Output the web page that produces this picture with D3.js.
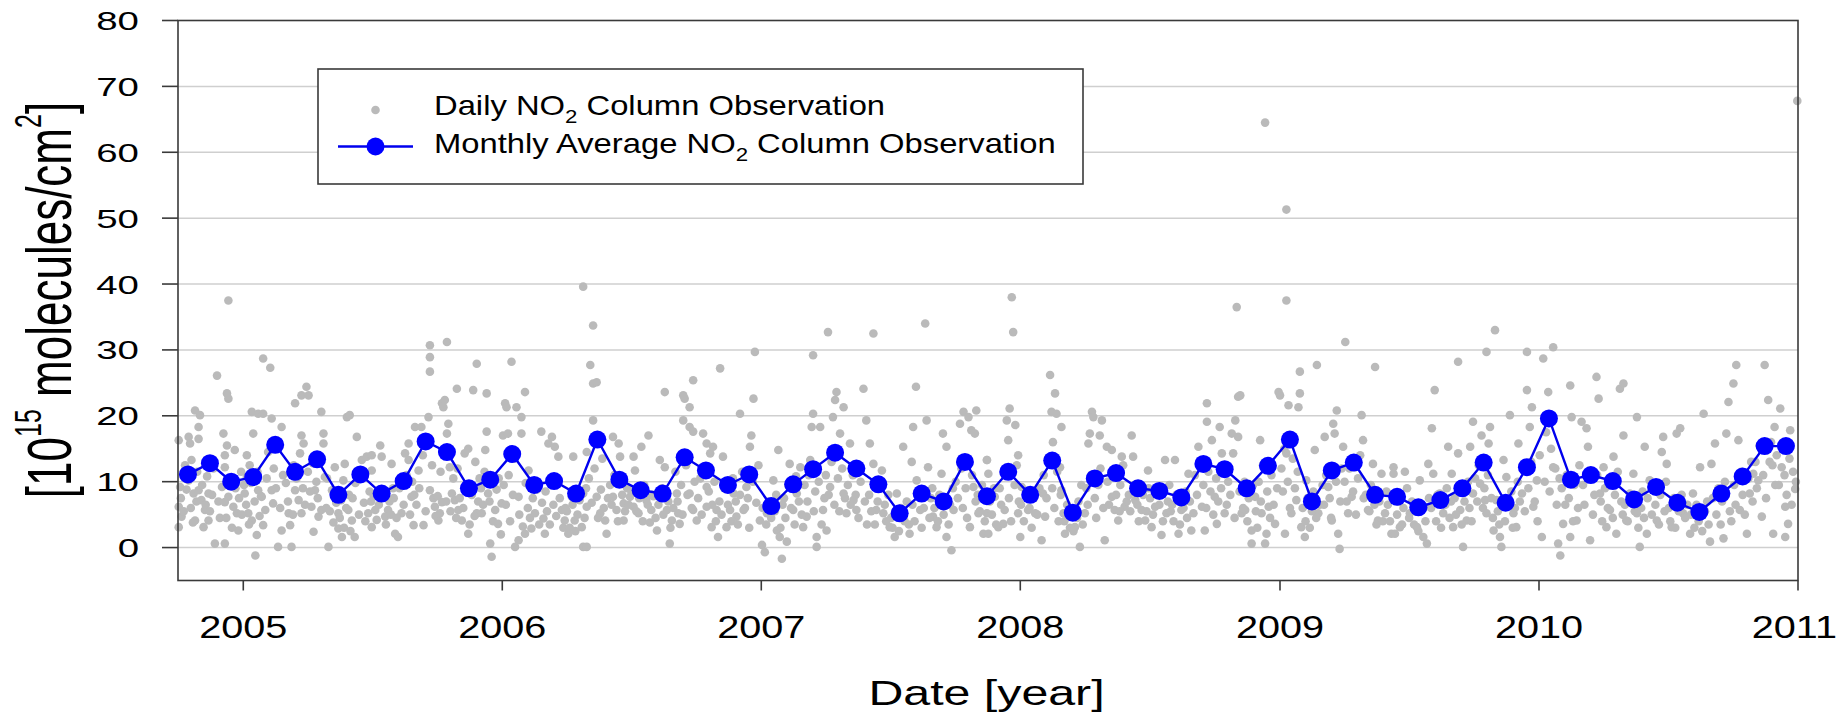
<!DOCTYPE html>
<html><head><meta charset="utf-8">
<script src="https://cdn.jsdelivr.net/npm/d3@7"></script>
<style>
body{margin:0;background:#fff}
svg{display:block}
text{font-family:"Liberation Sans",Arial,Helvetica,sans-serif;fill:#000}
</style>
</head><body>
<svg id="chart" width="1839" height="715"></svg>
<script>
// ---------------- DATA ----------------
// Monthly averages (10^15 molecules/cm^2), Oct 2004 .. Dec 2010, plotted mid-month
const monthlyFirst = "2004-10-15";
const monthlyValues = [
  11.1, 12.8, 10.0,
  10.7, 15.6, 11.5, 13.4, 8.0, 11.1, 8.2, 10.1, 16.1, 14.5, 9.0, 10.3,
  14.2, 9.5, 10.1, 8.2, 16.4, 10.3, 8.7, 8.2, 13.7, 11.7, 9.5, 11.1,
  6.3, 9.6, 11.9, 14.4, 12.0, 9.6, 5.2, 8.2, 7.0, 13.0, 7.8, 11.5,
  8.0, 13.2, 5.3, 10.5, 11.3, 9.0, 8.6, 7.6, 12.7, 11.9, 9.0, 12.4,
  16.4, 7.0, 11.7, 12.9, 8.0, 7.7, 6.1, 7.2, 9.0, 12.9, 6.8, 12.2,
  19.6, 10.3, 11.0, 10.1, 7.3, 9.2, 6.8, 5.4, 8.2, 10.8, 15.4, 15.4
];

// Daily observations: [days since 2004-10-01, value]
const dailyStart = "2004-10-01";
const daily2004_2006 = [[1,16.3],[3,9.2],[1,6.2],[5,4.7],[1,3.1],[15,16.8],[17,15.8],[24,20.8],[31,20.1],[29,18.3],[29,16.5],[19,13.3],[15,10.2],[22,8.2],[29,8.7],[33,7.2],[24,4.1],[36,3.1],[38,5.7],[43,8.2],[43,4.1],[55,26.1],[69,23.4],[71,22.6],[71,37.5],[64,17.3],[69,15.5],[66,14.0],[80,14.8],[66,12.2],[71,7.7],[66,6.9],[78,6.2],[83,5.2],[52,0.6],[66,0.6],[85,2.6],[97,14.0],[104,20.6],[106,17.3],[101,12.5],[97,10.7],[94,8.2],[99,5.2],[104,4.1],[109,-1.2],[111,1.9],[113,20.3],[120,28.7],[130,27.3],[120,20.3],[132,19.6],[118,7.7],[123,5.7],[120,3.4],[113,8.7],[132,8.7],[134,6.7],[141,0.1],[146,18.3],[146,2.6],[156,5.2],[160,0.1],[165,8.7],[170,7.2],[172,14.3],[174,17.0],[177,15.8],[165,21.9],[174,23.1],[181,24.4],[184,23.1],[158,3.4],[174,5.2],[188,6.2],[191,2.4],[193,8.7],[202,20.6],[205,17.3],[205,15.8],[207,10.7],[198,4.7],[202,5.7],[212,0.1],[217,8.7],[221,12.2],[226,5.2],[226,2.9],[231,1.6],[235,12.7],[233,10.2],[238,19.8],[242,20.1],[240,5.7],[245,4.1],[249,1.6],[252,16.8],[259,13.3],[266,13.8],[273,14.0],[273,11.7],[268,5.2],[273,3.1],[278,5.7],[285,15.5],[287,13.8],[292,4.7],[296,5.7],[301,12.7],[306,2.1],[310,1.6],[315,5.2],[320,14.3],[325,15.8],[325,13.3],[329,7.7],[332,3.4],[334,18.3],[343,18.3],[339,11.7],[346,3.4],[353,19.8],[355,30.7],[355,28.9],[355,26.7],[367,4.1],[372,21.9],[376,22.4],[374,21.3],[379,31.2],[381,18.8],[379,17.3],[383,12.2],[355,8.7],[362,6.2],[372,6.9],[386,8.2],[390,7.2],[393,24.1],[395,5.7],[400,4.1],[409,2.1],[404,14.3],[409,15.0],[416,23.9],[419,13.0],[421,27.9],[421,5.2],[428,5.2],[435,23.4],[435,17.6],[433,14.8],[437,8.2],[440,0.6],[442,-1.4],[447,5.7],[451,3.6],[456,6.7],[461,21.9],[463,21.3],[458,17.0],[465,17.3],[470,28.2],[477,21.3],[480,7.7],[475,0.1],[480,1.1],[484,19.8],[484,17.3],[489,23.6],[489,2.1],[494,11.7],[498,2.9],[512,17.6],[515,4.4],[517,2.1],[522,15.8],[527,16.8],[531,15.3],[536,13.8],[541,5.7],[545,4.1],[550,2.1],[557,13.8],[555,7.7],[559,4.1],[571,0.1]];
const daily2006_2007 = [[571,39.6],[585,33.7],[581,27.7],[585,24.9],[590,25.1],[585,19.3],[576,14.5],[571,8.2],[576,6.2],[569,3.1],[576,0.1],[590,7.7],[595,5.2],[604,2.1],[602,4.1],[613,16.8],[621,15.8],[623,13.8],[613,7.7],[618,5.7],[628,4.1],[628,6.7],[642,13.8],[644,11.7],[637,7.7],[642,6.2],[649,5.2],[653,15.3],[663,17.0],[660,7.2],[667,5.7],[675,2.6],[679,13.3],[686,23.6],[686,12.2],[689,5.7],[693,0.6],[696,4.1],[703,8.2],[705,5.2],[707,3.6],[712,23.1],[714,22.6],[721,21.3],[726,25.4],[712,19.3],[721,18.3],[726,17.6],[721,8.2],[726,5.7],[731,4.1],[740,17.3],[745,15.8],[750,14.3],[745,9.2],[745,6.2],[752,3.1],[759,5.7],[761,1.6],[754,15.3],[764,27.2],[768,13.8],[773,3.1],[778,5.7],[783,8.2],[787,4.7],[792,20.3],[797,5.7],[801,9.2],[806,15.3],[808,17.0],[811,22.6],[813,29.7],[820,4.1],[823,0.4],[827,-0.7],[830,5.2],[839,10.2],[844,2.6],[846,14.8],[848,1.6],[851,-1.7],[858,0.9],[862,12.7],[867,5.7],[872,8.2],[877,12.2],[881,3.1],[886,4.7],[891,13.3],[895,20.3],[893,18.3],[895,29.2],[900,1.6],[900,0.1],[905,18.3],[909,5.7],[914,2.6],[916,32.7],[919,9.2],[923,19.8],[926,22.4],[928,23.6],[933,17.3],[938,21.3],[938,8.2],[942,5.2],[947,15.8],[952,7.2],[956,5.7],[966,24.1],[970,19.3],[975,15.8],[980,32.5],[980,12.7],[984,5.7],[992,11.7],[994,5.2],[1003,3.1],[1010,1.6],[1013,8.2],[1022,15.3],[1031,2.1],[1034,13.0],[1036,18.3],[1040,24.4],[1041,10.2],[1046,5.7],[1053,34.0],[1055,19.3],[1057,12.2],[1064,4.7],[1069,3.1],[1076,11.2],[1078,17.3],[1083,15.3],[1083,1.6],[1090,-0.4],[1093,5.7],[1102,18.8],[1107,20.6],[1114,19.8],[1118,17.8],[1123,17.3],[1125,20.8],[1121,9.2],[1116,3.1],[1128,5.2],[1135,2.1],[1140,13.3]];
const daily2008_2009 = [[1140,13.3],[1142,11.2],[1140,5.2],[1142,2.1],[1151,7.7],[1156,3.1],[1163,3.6],[1165,5.7],[1170,16.3],[1168,19.3],[1172,21.1],[1175,38.0],[1177,32.7],[1180,18.6],[1184,14.0],[1184,5.2],[1187,1.6],[1189,9.2],[1198,5.7],[1208,5.2],[1217,1.1],[1219,8.2],[1222,4.7],[1229,26.2],[1236,23.4],[1231,20.6],[1238,20.3],[1245,18.3],[1233,16.0],[1243,12.2],[1245,8.7],[1248,5.2],[1250,2.1],[1255,4.7],[1264,3.1],[1271,0.1],[1273,9.5],[1278,5.2],[1283,15.8],[1285,17.3],[1288,20.6],[1290,19.8],[1299,17.0],[1302,19.3],[1306,1.1],[1309,15.3],[1316,14.8],[1316,7.7],[1320,5.7],[1325,4.1],[1330,13.8],[1334,6.2],[1344,17.0],[1346,13.8],[1349,7.2],[1358,5.7],[1363,4.1],[1367,11.7],[1372,3.1],[1377,6.2],[1386,1.9],[1391,13.3],[1393,5.2],[1405,13.3],[1410,2.1],[1414,5.7],[1424,11.2],[1428,2.6],[1431,5.2],[1438,15.3],[1443,6.2],[1447,2.6],[1450,21.9],[1450,19.1],[1457,16.3],[1461,7.7],[1464,3.6],[1468,18.3],[1471,14.3],[1475,5.2],[1487,14.3],[1485,17.3],[1490,19.3],[1492,36.5],[1494,22.9],[1497,23.1],[1494,16.8],[1499,5.2],[1504,5.7],[1513,2.6],[1513,0.6],[1518,7.7],[1525,16.3],[1527,5.2],[1532,0.6],[1534,2.1],[1537,6.2],[1546,3.6],[1551,23.6],[1553,23.1],[1532,64.5],[1562,51.3],[1562,37.5],[1565,21.6],[1562,14.3],[1560,2.1],[1569,5.2],[1576,7.2],[1579,21.3],[1581,23.4],[1581,26.7],[1583,3.1],[1588,1.6],[1590,10.2],[1602,14.8],[1605,27.7],[1607,5.2],[1616,16.8],[1621,9.2],[1626,4.1],[1628,18.8],[1630,17.3],[1633,20.8],[1635,2.1],[1637,-0.2],[1642,15.3],[1645,31.2],[1649,5.2],[1654,7.7],[1659,12.2],[1668,20.1],[1670,16.3],[1677,5.7],[1684,12.7],[1687,27.4],[1691,4.1],[1696,11.2],[1701,5.2],[1710,2.1],[1713,12.2]];
const daily2009_2010 = [[1713,11.2],[1717,8.2],[1722,3.1],[1715,2.1],[1729,11.5],[1736,5.2],[1746,3.1],[1750,10.2],[1755,1.6],[1760,0.6],[1757,6.2],[1762,12.7],[1767,18.1],[1771,23.9],[1769,11.2],[1778,8.2],[1783,5.2],[1790,15.3],[1795,11.2],[1797,3.1],[1804,28.2],[1804,14.3],[1807,5.7],[1811,0.1],[1816,4.1],[1821,15.3],[1825,19.1],[1825,8.2],[1835,9.7],[1837,17.0],[1842,7.2],[1844,5.2],[1844,29.7],[1849,18.3],[1847,15.8],[1854,2.6],[1856,33.0],[1858,7.2],[1863,1.6],[1865,0.1],[1868,13.3],[1872,10.7],[1877,20.1],[1882,5.2],[1886,3.1],[1889,15.8],[1894,8.2],[1901,29.7],[1901,23.9],[1905,18.3],[1908,21.3],[1910,6.2],[1915,10.2],[1922,1.6],[1924,28.7],[1931,23.6],[1938,30.4],[1938,12.2],[1945,0.6],[1948,-1.2],[1952,3.6],[1962,24.6],[1964,19.8],[1962,1.6],[1971,4.1],[1978,19.1],[1985,18.1],[1987,15.3],[1990,1.1],[1999,25.9],[2002,22.6],[2004,8.2],[2009,12.2],[2013,3.1],[2018,5.7],[2023,13.8],[2027,2.1],[2032,24.1],[2037,17.0],[2037,24.9],[2041,4.1],[2046,8.2],[2051,11.2],[2056,19.8],[2056,5.2],[2060,0.1],[2067,15.3],[2070,2.1],[2074,10.2],[2084,4.1],[2091,14.5],[2093,16.8],[2098,12.7],[2105,3.1],[2112,17.3],[2117,18.1],[2121,5.2],[2131,2.1],[2135,8.2],[2145,12.2],[2150,20.3],[2159,0.9],[2161,12.7],[2166,15.8],[2178,1.4],[2182,17.3],[2185,22.1],[2192,24.9],[2196,27.7],[2199,16.3],[2201,5.7],[2211,2.1],[2215,8.2],[2220,11.2],[2227,10.2],[2232,4.7],[2236,27.7],[2241,22.4],[2243,13.0],[2248,2.1],[2250,18.3],[2258,21.1],[2260,12.2],[2265,6.2],[2265,1.6],[2269,3.6],[2272,17.8],[2276,11.5],[2279,8.9],[2282,67.8]];
// Densely overlapping observations in the main band (second reading pass)
const dailyDense2004_2007 = [[4,7.5],[8,5.5],[12,8.8],[18,6.0],[21,3.8],[26,7.0],[27,11.5],[10,12.5],[34,9.5],[39,6.5],[41,10.8],[45,5.5],[48,8.0],[50,12.0],[57,7.0],[59,4.5],[62,9.2],[68,4.5],[73,10.5],[76,3.0],[81,9.0],[86,7.5],[89,11.5],[90,5.0],[93,9.5],[96,6.5],[100,3.5],[103,9.8],[108,7.0],[112,11.5],[115,4.8],[117,7.8],[125,10.5],[127,14.5],[135,12.0],[138,9.0],[142,16.0],[148,11.0],[144,6.0],[152,9.8],[155,7.0],[162,5.0],[167,10.5],[176,9.0],[179,6.5],[163,12.5],[183,11.5],[186,8.5],[190,12.8],[195,10.0],[197,7.5],[200,13.5],[209,6.0],[210,10.5],[214,5.5],[219,3.8],[223,6.8],[228,4.5],[230,7.2],[234,3.0],[237,6.0],[241,8.0],[243,2.5],[246,7.5],[250,9.8],[255,5.0],[258,11.5],[262,6.8],[264,4.0],[270,8.5],[272,7.0],[276,7.8],[280,4.2],[283,6.5],[289,8.5],[293,3.5],[298,7.0],[300,5.0],[303,9.0],[304,7.5],[308,4.5],[312,9.0],[318,6.5],[322,11.0],[327,5.0],[330,10.0],[333,8.0],[336,6.5],[340,9.0],[345,14.0],[349,5.5],[351,16.5],[358,12.5],[360,7.5],[363,4.8],[366,7.8],[369,5.2],[370,11.5],[378,7.0],[384,5.5],[388,10.5],[392,4.5],[394,12.0],[397,7.5],[402,6.0],[406,9.0],[411,3.5],[414,8.0],[418,4.8],[423,7.0],[425,10.5],[427,9.0],[430,6.5],[432,11.5],[439,7.0],[444,4.0],[449,8.8],[452,10.5],[455,2.0],[459,9.5],[462,6.5],[466,11.0],[468,4.0],[472,8.0],[474,13.5],[481,5.0],[486,3.2],[490,9.8],[493,6.0],[496,4.5],[500,7.5],[503,5.2],[506,8.8],[509,3.5],[513,6.8],[518,8.5],[520,5.5],[524,3.5],[529,6.5],[533,4.8],[538,7.5],[543,3.0],[546,6.0],[548,5.5],[552,3.0],[556,6.5],[560,2.5],[563,5.0],[566,7.2],[573,4.5],[575,9.0],[579,10.5],[583,6.8],[587,12.0],[592,4.5],[596,8.8],[600,6.0],[606,7.5],[598,13.5],[609,9.5],[611,6.5],[615,11.0],[620,4.0],[626,8.0],[630,5.5],[633,9.0],[635,6.5],[639,8.5],[646,5.5],[650,7.5],[655,4.0],[657,9.5],[662,6.5],[665,3.8],[668,8.0],[670,7.8],[673,4.5],[677,6.5],[682,9.0],[684,5.0],[691,7.0],[694,3.0],[698,6.0],[701,11.5],[704,7.0],[709,9.5],[711,5.0],[716,12.5],[718,8.0],[724,6.0],[728,10.0],[733,7.5],[736,10.5],[738,5.0],[742,12.0],[748,8.5],[753,6.5],[756,10.0],[758,4.0],[763,7.0],[766,5.0],[770,9.0],[775,6.5],[780,4.0],[782,10.5],[786,7.0],[789,3.5],[792,8.0],[795,11.5],[799,6.0],[803,7.5],[805,3.0],[810,10.0],[815,6.8],[818,12.5],[824,6.0],[829,3.5],[833,7.0],[836,4.5],[841,5.5],[843,8.0],[849,3.0],[852,6.5],[854,7.5],[856,4.5],[860,9.5],[864,6.0],[869,3.5],[871,10.8],[875,7.0],[879,5.0],[883,9.5],[887,7.0],[889,11.0],[896,5.5],[898,8.5],[903,10.0],[907,3.5],[911,7.5],[913,11.0],[917,8.0],[921,13.0],[925,6.5],[930,10.5],[932,5.5],[936,12.0],[940,7.5],[944,9.5],[948,6.5],[951,11.0],[955,8.0],[959,4.5],[962,10.0],[968,7.0],[971,3.5],[974,8.0],[977,5.5],[982,3.5],[986,7.0],[989,9.5],[996,6.5],[998,4.0],[1001,8.0],[1005,4.5],[1007,3.0],[1012,5.5],[1016,2.5],[1019,6.0],[1024,4.0],[1027,7.0],[1030,3.5],[1035,6.5],[1038,4.0],[1043,8.0],[1048,3.0],[1051,6.0],[1059,4.5],[1061,7.5],[1063,9.0],[1066,6.0],[1071,4.0],[1073,8.0],[1079,5.0],[1081,7.0],[1086,3.5],[1088,6.5],[1092,9.0],[1096,10.0],[1099,7.5],[1104,12.0],[1106,6.0],[1110,9.0],[1112,4.5],[1119,11.0],[1124,7.0],[1127,8.0],[1130,5.5],[1133,9.5],[1137,4.0],[1144,7.0],[1147,5.0],[1150,9.0],[1153,3.5],[1158,9.0],[1160,6.5],[1166,11.0],[1171,7.5],[1174,4.0],[1179,9.5],[1182,12.5],[1185,7.0]];
const dailyDense2008_2010 = [[1188,6.5],[1192,4.0],[1195,8.5],[1200,6.0],[1203,3.0],[1206,7.5],[1211,5.0],[1214,9.0],[1220,11.0],[1224,7.5],[1226,13.5],[1232,9.0],[1235,6.0],[1239,11.5],[1241,4.0],[1244,8.0],[1249,4.0],[1253,6.5],[1257,3.0],[1260,5.5],[1262,2.5],[1267,4.5],[1269,7.0],[1275,3.5],[1280,9.0],[1282,6.5],[1287,11.0],[1292,7.5],[1294,4.5],[1297,9.5],[1300,12.0],[1304,6.0],[1310,10.0],[1312,6.5],[1318,11.5],[1322,8.0],[1327,5.5],[1328,9.5],[1332,12.5],[1337,7.0],[1340,8.0],[1342,5.5],[1348,9.5],[1352,6.5],[1354,4.0],[1360,8.0],[1365,5.5],[1368,9.0],[1370,7.5],[1374,5.0],[1380,8.5],[1383,6.5],[1388,4.0],[1395,7.0],[1397,9.5],[1399,5.5],[1401,6.5],[1403,4.0],[1407,8.0],[1412,3.5],[1417,6.0],[1420,8.5],[1422,4.5],[1426,7.0],[1433,11.0],[1436,8.0],[1440,13.0],[1445,9.5],[1449,6.0],[1452,11.5],[1455,8.5],[1459,5.0],[1463,10.5],[1466,7.0],[1470,9.0],[1473,12.0],[1478,6.5],[1480,10.0],[1483,8.0],[1489,4.5],[1496,8.5],[1501,6.0],[1503,10.0],[1507,4.0],[1509,7.5],[1515,9.5],[1519,5.5],[1521,3.0],[1523,10.0],[1526,7.0],[1529,12.5],[1535,8.5],[1539,4.5],[1541,11.0],[1544,6.5],[1549,9.0],[1555,12.0],[1557,8.5],[1559,15.0],[1564,10.0],[1567,6.0],[1571,13.5],[1574,9.0],[1578,11.5],[1585,6.0],[1589,4.0],[1592,7.5],[1595,3.0],[1598,5.5],[1600,8.5],[1604,4.5],[1609,6.5],[1613,9.5],[1615,6.5],[1618,11.0],[1623,7.5],[1625,4.5],[1632,10.0],[1638,7.0],[1640,12.0],[1644,10.0],[1647,7.0],[1651,12.0],[1656,8.5],[1660,5.0],[1663,10.5],[1666,14.0],[1671,7.5],[1674,8.0],[1679,5.5],[1681,9.5],[1686,6.5],[1689,3.5],[1693,7.0],[1698,4.0],[1703,8.5],[1705,6.5],[1708,4.0],[1712,8.0],[1718,5.0],[1720,7.0],[1725,3.5],[1727,6.0],[1732,9.0],[1735,4.5],[1739,7.0],[1742,3.5],[1744,5.5],[1748,2.5],[1752,6.0],[1758,4.0],[1763,7.5],[1766,6.0],[1773,4.0],[1775,8.0],[1780,3.0],[1786,6.5],[1788,9.0],[1792,4.5],[1794,7.0],[1799,7.5],[1801,5.0],[1806,9.5],[1809,3.5],[1813,7.0],[1818,10.0],[1820,6.0],[1823,4.0],[1828,10.5],[1831,7.0],[1833,12.5],[1839,6.0],[1841,9.0],[1846,11.0],[1851,7.5],[1853,4.5],[1860,5.5],[1862,3.5],[1867,7.0],[1870,4.0],[1874,6.5],[1879,8.5],[1881,3.0],[1884,6.0],[1888,10.0],[1891,7.0],[1896,12.5],[1898,5.5],[1903,9.0],[1907,13.0],[1912,7.0],[1916,4.0],[1919,14.0],[1926,10.0],[1928,17.5],[1933,8.5],[1935,15.0],[1941,12.0],[1943,6.5],[1947,10.5],[1950,9.0],[1955,6.5],[1957,11.0],[1960,7.5],[1966,4.0],[1968,9.5],[1973,6.0],[1975,12.5],[1980,9.5],[1982,6.5],[1992,10.5],[1994,5.0],[1996,8.0],[2000,11.0],[2005,7.0],[2007,4.0],[2011,9.0],[2015,6.0],[2020,10.5],[2022,4.5],[2025,8.0],[2029,11.5],[2034,7.0],[2036,5.0],[2039,6.5],[2043,4.0],[2048,7.5],[2053,5.5],[2058,3.0],[2062,6.0],[2064,8.5],[2066,4.5],[2071,7.5],[2077,5.0],[2080,9.0],[2082,6.5],[2087,3.5],[2089,8.0],[2095,5.5],[2097,10.0],[2101,6.0],[2103,4.0],[2108,7.5],[2110,3.0],[2115,5.5],[2119,8.0],[2124,4.5],[2127,6.5],[2132,5.0],[2137,3.0],[2140,6.5],[2143,4.0],[2148,2.5],[2152,5.5],[2155,7.0],[2157,3.5],[2163,7.5],[2168,5.0],[2171,9.0],[2174,3.5],[2176,7.0],[2180,10.0],[2187,5.5],[2189,4.0],[2193,9.5],[2195,6.5],[2203,11.5],[2205,8.0],[2208,5.0],[2213,10.5],[2217,13.0],[2219,7.0],[2223,13.0],[2225,9.0],[2229,15.5],[2234,11.0],[2238,7.5],[2245,16.0],[2247,12.5],[2251,9.5],[2253,14.0],[2256,9.5],[2262,15.0],[2264,11.0],[2267,8.0],[2271,13.5],[2274,6.5],[2280,10.0]];

const yTickValues = [0, 10, 20, 30, 40, 50, 60, 70, 80];
const xTickYears = [2005, 2006, 2007, 2008, 2009, 2010, 2011];
const legendLabels = ["Daily NO", " Column Observation", "Monthly Average NO", " Column Observation"];

// ---------------- DRAW ----------------
const svg = d3.select("#chart");
const parse = d3.utcParse("%Y-%m-%d");
const t0 = parse(dailyStart);
const x = d3.scaleUtc().domain([t0, parse("2011-01-01")]).range([178, 1798]);
const y = d3.scaleLinear().domain([-5, 80]).range([580.5, 20.5]);
const [X0, X1] = x.range();
const [Y0, Y1] = y.range();

// grid lines
svg.append("g").selectAll("line").data(yTickValues.filter(v => v < 80)).join("line")
  .attr("x1", X0).attr("x2", X1).attr("y1", d => y(d)).attr("y2", d => y(d))
  .attr("stroke", "#cfcfcf").attr("stroke-width", 1.5);

// daily points
const daily = [].concat(daily2004_2006, daily2006_2007, daily2008_2009, daily2009_2010,
                        dailyDense2004_2007, dailyDense2008_2010);
svg.append("g").selectAll("circle").data(daily).join("circle")
  .attr("cx", d => x(d3.utcDay.offset(t0, d[0])))
  .attr("cy", d => y(d[1]))
  .attr("r", 4.3).attr("fill", "#bababa");

// monthly line + markers
const m0 = parse(monthlyFirst);
const monthly = monthlyValues.map((v, i) => [d3.utcMonth.offset(m0, i), v]);
svg.append("path").datum(monthly)
  .attr("d", d3.line().x(d => x(d[0])).y(d => y(d[1])))
  .attr("fill", "none").attr("stroke", "#0000ee").attr("stroke-width", 2.4);
svg.append("g").selectAll("circle").data(monthly).join("circle")
  .attr("cx", d => x(d[0])).attr("cy", d => y(d[1]))
  .attr("r", 9).attr("fill", "#0000ff");

// frame
svg.append("rect").attr("x", X0).attr("y", Y1).attr("width", X1 - X0).attr("height", Y0 - Y1)
  .attr("fill", "none").attr("stroke", "#3a3a3a").attr("stroke-width", 1.6);

// helper for horizontally-stretched text
function stretched(parent, tx, ty, sx, sy, anchor, size) {
  return parent.append("g").attr("transform", `translate(${tx},${ty}) scale(${sx},${sy})`)
    .append("text").attr("text-anchor", anchor).attr("font-size", size);
}

// y axis ticks + labels
const yAx = svg.append("g");
yTickValues.forEach(v => {
  yAx.append("line").attr("x1", X0 - 16).attr("x2", X0).attr("y1", y(v)).attr("y2", y(v))
    .attr("stroke", "#3a3a3a").attr("stroke-width", 1.6);
  stretched(yAx, 139, y(v) + 9.5, 1.45, 1, "end", 26.5).text(v);
});

// x axis ticks + labels
const xAx = svg.append("g");
xTickYears.forEach((yr, i) => {
  const xp = x(parse(yr + "-01-01"));
  xAx.append("line").attr("x1", xp).attr("x2", xp).attr("y1", Y0).attr("y2", Y0 + 10)
    .attr("stroke", "#3a3a3a").attr("stroke-width", 1.6);
  const last = i === xTickYears.length - 1;
  stretched(xAx, last ? 1837 : xp, 638, 1.24, 1, last ? "end" : "middle", 32).text(yr);
});

// axis titles
stretched(svg, 986.5, 705, 1.38, 1, "middle", 35).text("Date [year]");

const yt = svg.append("g").attr("transform", "translate(71,300) rotate(-90) scale(1,1.45)")
  .append("text").attr("text-anchor", "middle").attr("font-size", 44);
yt.append("tspan").text("[10");
yt.append("tspan").attr("font-size", 25).attr("dy", -21).text("15");
yt.append("tspan").attr("dy", 21).text(" molecules/cm");
yt.append("tspan").attr("font-size", 25).attr("dy", -21).text("2");
yt.append("tspan").attr("dy", 21).text("]");

// legend
const lg = svg.append("g");
lg.append("rect").attr("x", 318).attr("y", 69).attr("width", 765).attr("height", 115)
  .attr("fill", "#fff").attr("stroke", "#3a3a3a").attr("stroke-width", 1.6);
lg.append("circle").attr("cx", 375.5).attr("cy", 110).attr("r", 4.3).attr("fill", "#bababa");
lg.append("line").attr("x1", 338).attr("x2", 413).attr("y1", 146.5).attr("y2", 146.5)
  .attr("stroke", "#0000ee").attr("stroke-width", 2.4);
lg.append("circle").attr("cx", 375.5).attr("cy", 146.5).attr("r", 9).attr("fill", "#0000ff");

function legendText(ty, a, b) {
  const t = stretched(lg, 434, ty, 1.17, 1, "start", 28);
  t.append("tspan").text(a);
  t.append("tspan").attr("font-size", 19).attr("dy", 8).text("2");
  t.append("tspan").attr("dy", -8).text(b);
}
legendText(115, legendLabels[0], legendLabels[1]);
legendText(153, legendLabels[2], legendLabels[3]);
</script>
</body></html>
